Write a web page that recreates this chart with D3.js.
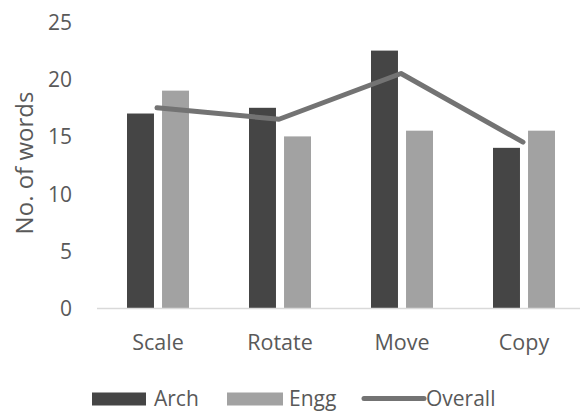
<!DOCTYPE html>
<html>
<head>
<meta charset="utf-8">
<script src="https://cdn.jsdelivr.net/npm/d3@7"></script>
<style>
  html, body { margin: 0; padding: 0; background: #fff; }
  svg { display: block; font-family: "Open Sans", sans-serif; }
</style>
</head>
<body>
<svg id="chart" width="580" height="413"></svg>
<script>
// Words per operation, by group
const categories = ["Scale", "Rotate", "Move", "Copy"];
const series = ["Arch", "Engg"];
const archValues = [17, 17.5, 22.5, 14];
const enggValues = [19, 15, 15.5, 15.5];
const overallValues = [17.5, 16.5, 20.5, 14.5];
const yTicks = [0, 5, 10, 15, 20, 25];

const colors = { Arch: "#454545", Engg: "#a2a2a2", Overall: "#737373" };
const textColor = "#595959";

const svg = d3.select("#chart");

const y = d3.scaleLinear().domain([0, 25]).range([308, 22]);
const x = d3.scaleBand().domain(categories).range([97, 585]).paddingInner(0).paddingOuter(0);
const xs = d3.scaleBand().domain(series).range([30, 92]).paddingInner(0.23).paddingOuter(0);

// value axis labels (no line, no gridlines)
const yAxis = d3.axisLeft(y).tickValues(yTicks).tickSize(0).tickPadding(0);
const yg = svg.append("g").attr("transform", "translate(72,0)").call(yAxis);
yg.select(".domain").remove();
yg.selectAll("text")
  .attr("fill", textColor)
  .style("font-size", "21px")
  .style("font-family", "'Open Sans', sans-serif")
  .attr("dy", "0.36em");

// y axis title
svg.append("text")
  .attr("transform", "translate(33,163) rotate(-90)")
  .attr("text-anchor", "middle")
  .attr("fill", textColor)
  .style("font-size", "24px")
  .text("No. of words");

// bars
const rows = categories.map((c, i) => ({ cat: c, Arch: archValues[i], Engg: enggValues[i] }));
const groups = svg.append("g").selectAll("g").data(rows).join("g")
  .attr("transform", d => `translate(${x(d.cat)},0)`);
groups.selectAll("rect")
  .data(d => series.map(s => ({ s, v: d[s] })))
  .join("rect")
  .attr("x", d => xs(d.s))
  .attr("width", xs.bandwidth())
  .attr("y", d => y(d.v))
  .attr("height", d => y(0) - y(d.v))
  .attr("fill", d => colors[d.s]);

// category axis
const xAxis = d3.axisBottom(x).tickSize(0).tickPadding(0);
const xg = svg.append("g").attr("transform", `translate(0,${y(0)})`).call(xAxis);
xg.select(".domain").attr("stroke", "#d9d9d9").attr("stroke-width", 1.5).attr("d", "M97,0.5H580");
xg.selectAll("text")
  .attr("fill", textColor)
  .style("font-size", "21.5px")
  .style("font-family", "'Open Sans', sans-serif")
  .attr("y", 42)
  .attr("dy", 0);

// overall line
const line = d3.line()
  .x((d, i) => x(categories[i]) + x.bandwidth() / 2 - 1)
  .y(d => y(d));
svg.append("path")
  .datum(overallValues)
  .attr("d", line)
  .attr("fill", "none")
  .attr("stroke", colors.Overall)
  .attr("stroke-width", 5)
  .attr("stroke-linecap", "round")
  .attr("stroke-linejoin", "round");

// legend
const legend = svg.append("g").style("font-size", "21px").attr("fill", textColor);
const legendItems = [
  { name: "Arch", type: "rect", x0: 92, x1: 146, tx: 154 },
  { name: "Engg", type: "rect", x0: 227, x1: 283, tx: 289 },
  { name: "Overall", type: "line", x0: 364, x1: 424, tx: 426 }
];
legendItems.forEach(it => {
  if (it.type === "rect") {
    legend.append("rect").attr("x", it.x0).attr("y", 392.5)
      .attr("width", it.x1 - it.x0).attr("height", 13).attr("fill", colors[it.name]);
  } else {
    legend.append("line").attr("x1", it.x0).attr("x2", it.x1).attr("y1", 398.5).attr("y2", 398.5)
      .attr("stroke", colors.Overall).attr("stroke-width", 5).attr("stroke-linecap", "round");
  }
  legend.append("text").attr("x", it.tx).attr("y", 406).text(it.name);
});
</script>
</body>
</html>
